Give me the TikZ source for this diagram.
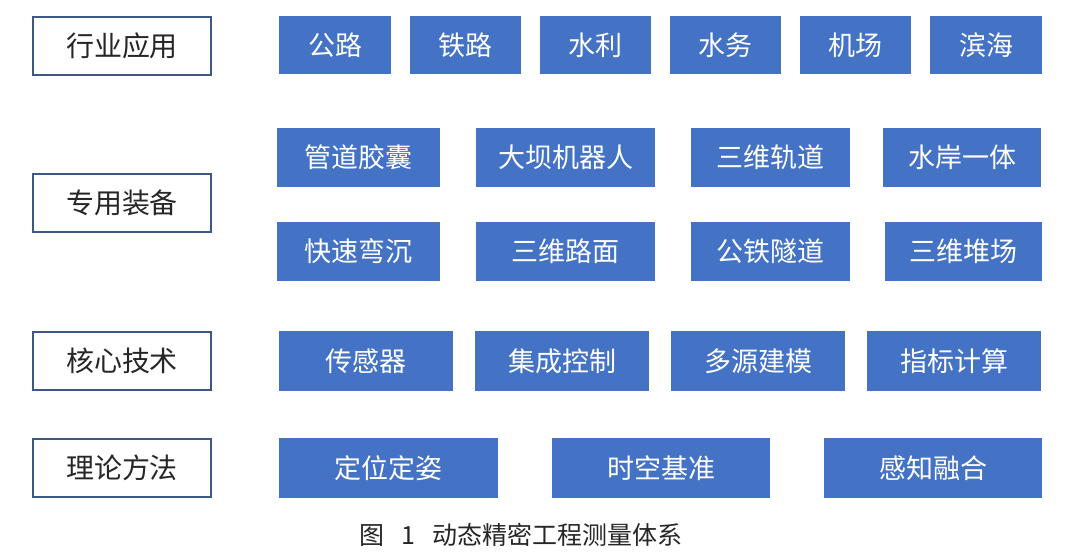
\documentclass[tikz,border=0pt]{standalone}
\usepackage{fontspec}
\newfontfamily\cjk{Noto Sans CJK SC}
\definecolor{boxblue}{HTML}{4472C4}
\definecolor{edgeblue}{HTML}{3E5884}
\begin{document}
\begin{tikzpicture}[x=1pt,y=-1pt,
  cat/.style={draw=edgeblue,line width=2.4pt,fill=white,inner sep=0pt,font=\cjk\fontsize{28}{30}\selectfont,text=black!85},
  item/.style={fill=boxblue,inner sep=0pt,font=\cjk\fontsize{27}{30}\selectfont,text=white}]
\useasboundingbox[fill=white] (0,0) rectangle (1080,557);
\newcommand\catbox[6]{\node[cat,minimum width=#3-#2,minimum height=#5-#4] (#1) at ({(#2+#3)/2},{(#4+#5)/2}) {#6};}
\newcommand\itembox[6]{\node[item,minimum width=#3-#2,minimum height=#5-#4] (#1) at ({(#2+#3)/2},{(#4+#5)/2}) {#6};}
% categories
\catbox{c1}{33}{211}{17}{75}{行业应用}
\catbox{c2}{33}{211}{174}{232}{专用装备}
\catbox{c3}{33}{211}{332}{390}{核心技术}
\catbox{c4}{33}{211}{439}{497}{理论方法}
% row 1
\itembox{a1}{279}{391}{16}{74}{公路}
\itembox{a2}{410}{521}{16}{74}{铁路}
\itembox{a3}{540}{651}{16}{74}{水利}
\itembox{a4}{670}{781}{16}{74}{水务}
\itembox{a5}{800}{911}{16}{74}{机场}
\itembox{a6}{930}{1042}{16}{74}{滨海}
% row 2
\itembox{b1}{277}{440}{128}{187}{管道胶囊}
\itembox{b2}{476}{655}{128}{187}{大坝机器人}
\itembox{b3}{691}{850}{128}{187}{三维轨道}
\itembox{b4}{883}{1041}{128}{187}{水岸一体}
% row 3
\itembox{d1}{277}{440}{222}{281}{快速弯沉}
\itembox{d2}{476}{655}{222}{281}{三维路面}
\itembox{d3}{691}{850}{222}{281}{公铁隧道}
\itembox{d4}{885}{1042}{222}{281}{三维堆场}
% row 4
\itembox{e1}{279}{453}{331}{391}{传感器}
\itembox{e2}{475}{649}{331}{391}{集成控制}
\itembox{e3}{671}{845}{331}{391}{多源建模}
\itembox{e4}{867}{1041}{331}{391}{指标计算}
% row 5
\itembox{f1}{279}{498}{438}{498}{定位定姿}
\itembox{f2}{552}{770}{438}{498}{时空基准}
\itembox{f3}{824}{1042}{438}{498}{感知融合}
% caption
\node[font=\cjk\fontsize{25}{28}\selectfont,text=black!85,inner sep=0pt] (cap) at (521,535) {图\hspace{0.7em}1\hspace{0.7em}动态精密工程测量体系};
\end{tikzpicture}
\end{document}
